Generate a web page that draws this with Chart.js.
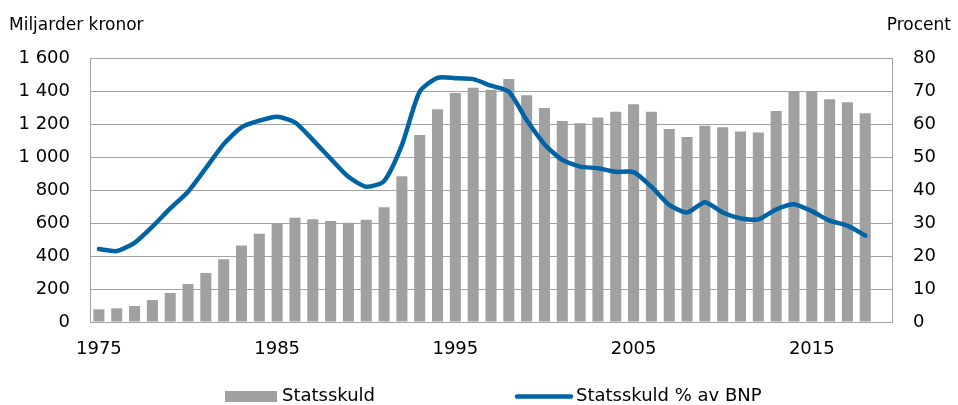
<!DOCTYPE html>
<html>
<head>
<meta charset="utf-8">
<script src="https://cdn.jsdelivr.net/npm/chart.js@4.4.7/dist/chart.umd.min.js"></script>
<style>
  html, body { margin: 0; padding: 0; background: #fff; }
  #wrap { width: 958px; height: 405px; }
</style>
</head>
<body>
<div id="wrap"><canvas id="debtChart" width="958" height="405"></canvas></div>
<script>
// years 1975-2019, last slot is empty in the original
const years = [];
for (let y = 1975; y <= 2019; y++) years.push(String(y));

// Statsskuld, miljarder kronor
const statsskuld = [
  77, 83, 97, 133, 176, 230, 297, 380, 463, 535,
  598, 632, 622, 612, 602, 620, 695, 883, 1133, 1289,
  1388, 1420, 1408, 1473, 1374, 1297, 1218, 1204, 1240, 1275,
  1319, 1275, 1170, 1121, 1190, 1180, 1154, 1148, 1279, 1399,
  1400, 1350, 1332, 1265, null
];

// Statsskuld i procent av BNP
const skuldBnp = [
  22.1, 21.5, 24.0, 28.9, 34.4, 39.5, 46.6, 53.9, 59.0, 61.0,
  62.2, 60.5, 55.2, 49.5, 44.0, 41.0, 42.7, 53.6, 69.8, 74.0,
  73.9, 73.6, 71.6, 69.8, 61.2, 53.9, 49.1, 47.1, 46.6, 45.5,
  45.4, 41.0, 35.5, 33.2, 36.3, 33.2, 31.4, 31.1, 34.1, 35.7,
  33.6, 30.7, 29.2, 26.2, null
];

const leftTicks = [0, 200, 400, 600, 800, 1000, 1200, 1400, 1600];
const rightTicks = [0, 10, 20, 30, 40, 50, 60, 70, 80];
const shownYears = ['1975', '1985', '1995', '2005', '2015'];

const FONT = '"DejaVu Sans", sans-serif';
const GRID = '#a3a3a3';
const BAR = '#a0a0a0';
const BLUE = '#0063a4';

function fmtThousands(v) {
  return String(v).replace(/\B(?=(\d{3})+(?!\d))/g, ' ');
}

// axis captions above the plot
const captions = {
  id: 'captions',
  afterDraw(chart) {
    const ctx = chart.ctx;
    ctx.save();
    ctx.fillStyle = '#000';
    ctx.font = '17px ' + FONT;
    ctx.textBaseline = 'alphabetic';
    ctx.textAlign = 'left';
    ctx.fillText('Miljarder kronor', 9, 30);
    ctx.textAlign = 'right';
    ctx.fillText('Procent', 951, 30);
    ctx.restore();
  }
};

// legend drawn by hand so the spacing matches
const bottomLegend = {
  id: 'bottomLegend',
  afterDraw(chart) {
    const ctx = chart.ctx;
    const bars = chart.data.datasets[1];
    const line = chart.data.datasets[0];
    const y = 396.5;
    ctx.save();
    ctx.font = '18px ' + FONT;
    ctx.textBaseline = 'middle';
    ctx.textAlign = 'left';

    ctx.fillStyle = bars.backgroundColor;
    ctx.fillRect(225, y - 5.5, 52, 11);
    ctx.fillStyle = '#000';
    ctx.fillText(bars.label, 282, y);

    ctx.strokeStyle = line.borderColor;
    ctx.lineWidth = line.borderWidth;
    ctx.lineCap = 'round';
    ctx.beginPath();
    ctx.moveTo(517, y);
    ctx.lineTo(571, y);
    ctx.stroke();
    ctx.fillStyle = '#000';
    ctx.fillText(line.label, 576, y);
    ctx.restore();
  }
};

new Chart(document.getElementById('debtChart'), {
  data: {
    labels: years,
    datasets: [
      {
        type: 'line',
        label: 'Statsskuld % av BNP',
        data: skuldBnp,
        yAxisID: 'yRight',
        borderColor: BLUE,
        borderWidth: 4.5,
        borderCapStyle: 'round',
        borderJoinStyle: 'round',
        pointRadius: 0,
        tension: 0.22,
        order: 0
      },
      {
        type: 'bar',
        label: 'Statsskuld',
        data: statsskuld,
        yAxisID: 'yLeft',
        backgroundColor: BAR,
        borderWidth: 0,
        barPercentage: 0.62,
        categoryPercentage: 1.0,
        order: 1
      }
    ]
  },
  options: {
    responsive: false,
    animation: false,
    devicePixelRatio: 1,
    layout: { padding: { top: 58, left: 0, right: 0, bottom: 0 } },
    plugins: {
      legend: { display: false },
      tooltip: { enabled: false }
    },
    scales: {
      x: {
        grid: { display: false, drawTicks: false },
        border: { display: true, color: GRID, width: 1 },
        ticks: {
          autoSkip: false,
          maxRotation: 0,
          padding: 17,
          color: '#000',
          font: { family: FONT, size: 18 },
          callback(value) {
            const lab = years[value];
            return shownYears.includes(lab) ? lab : '';
          }
        },
        afterFit(scale) { scale.height = 83; }
      },
      yLeft: {
        position: 'left',
        min: 0,
        max: 1600,
        grid: { color: GRID, lineWidth: 1, drawTicks: false },
        border: { display: true, color: GRID, width: 1 },
        afterBuildTicks(scale) { scale.ticks = leftTicks.map(v => ({ value: v })); },
        ticks: {
          padding: 20,
          color: '#000',
          font: { family: FONT, size: 18 },
          callback: v => fmtThousands(v)
        },
        afterFit(scale) { scale.width = 90; }
      },
      yRight: {
        position: 'right',
        min: 0,
        max: 80,
        grid: { drawOnChartArea: false, drawTicks: false },
        border: { display: true, color: GRID, width: 1 },
        afterBuildTicks(scale) { scale.ticks = rightTicks.map(v => ({ value: v })); },
        ticks: {
          padding: 21,
          color: '#000',
          font: { family: FONT, size: 18 }
        },
        afterFit(scale) { scale.width = 66; }
      }
    }
  },
  plugins: [captions, bottomLegend]
});
</script>
</body>
</html>
